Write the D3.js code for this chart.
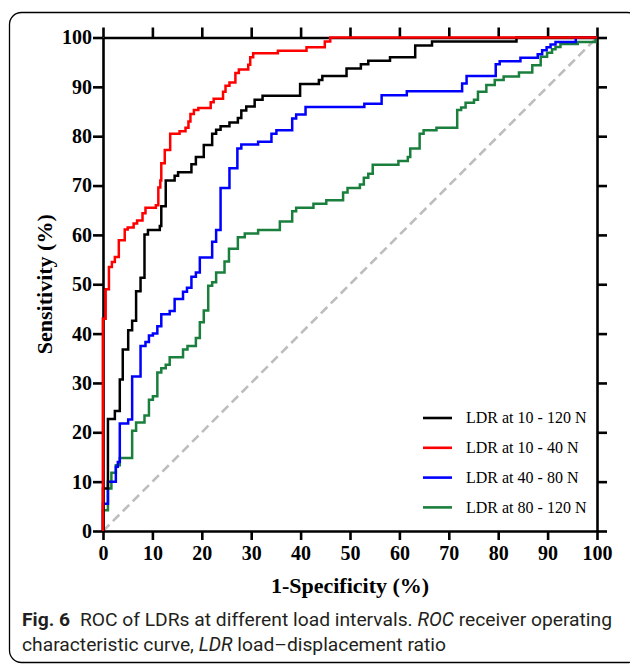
<!DOCTYPE html>
<html>
<head>
<meta charset="utf-8">
<script src="https://cdn.jsdelivr.net/npm/d3@7"></script>
<style>
  body { margin: 0; background: #fff; }
  .axis path, .axis line { stroke: #000; stroke-width: 2.6px; }
  .axis text { font-family: "Liberation Serif", "Times New Roman", serif; font-weight: bold; font-size: 20px; fill: #000; }
</style>
</head>
<body>
<div id="chart-area"></div>
<script>
// ROC curves, values (x = 1-specificity %, y = sensitivity %)
var xTicks = [0, 10, 20, 30, 40, 50, 60, 70, 80, 90, 100];
var yTicks = [0, 10, 20, 30, 40, 50, 60, 70, 80, 90, 100];

var names = ["LDR at 10 - 120 N", "LDR at 10 - 40 N", "LDR at 40 - 80 N", "LDR at 80 - 120 N"];
var colors = ["#000000", "#ff0000", "#0000ff", "#1a7f3c"];

var fpr1 = [0, 0, 1, 2.4, 3.4, 4, 5.1, 5.9, 6.7, 7.6, 8.4, 9.1, 11.5, 11.8, 12.7, 14.5, 15.2, 17.9, 18.8, 20.4, 22.1, 22.9, 23.8, 25.6, 27.3, 28, 29, 30.7, 32.3, 39.9, 43.7, 44.4, 49.3, 52.2, 53.7, 58.1, 63.2, 66.6, 83.7, 100];
var tpr1 = [0, 8.6, 22.7, 24.3, 30.7, 36.8, 40.7, 42.6, 48.6, 51.3, 60.1, 61, 61.8, 65.8, 71, 72, 72.7, 74.3, 75.8, 78.2, 80.5, 81.3, 82, 82.8, 83.7, 85.2, 86, 87.4, 88.2, 90.6, 91.4, 92.2, 93.7, 94.6, 95.3, 96, 98.4, 99.2, 100, 100];

var fpr2 = [0, 0, 0.5, 1.2, 1.8, 2.4, 3.2, 4.4, 5, 6.2, 6.9, 8, 8.6, 10.7, 11.2, 11.6, 11.8, 12.5, 13.6, 15.5, 16.7, 17.3, 17.7, 18.4, 19.3, 21.8, 22.4, 24.3, 24.8, 25.6, 26.8, 27.5, 29.4, 29.8, 30.4, 35.4, 41.2, 44.9, 46, 100];
var tpr2 = [0, 43, 49, 53.5, 54.5, 55.5, 58.9, 61.1, 61.5, 62.3, 62.9, 64.4, 65.5, 66, 69.6, 71, 74.5, 77.2, 80.5, 81, 81.7, 83, 84.5, 85.3, 85.7, 86.9, 87.6, 89, 90.2, 90.9, 92.8, 93.5, 94.5, 96, 96.8, 97.3, 98, 99.2, 100, 100];

var fpr3 = [0, 0, 1, 2.6, 3, 3.4, 5.1, 5.9, 7.6, 8.6, 9.3, 10.1, 11, 11.8, 13.5, 14.5, 16.2, 17, 17.9, 18.8, 19.6, 22.1, 22.9, 23.8, 25.6, 27.2, 28, 31.4, 34.1, 35.1, 38.3, 39.1, 41, 52.9, 56.4, 61.5, 72.7, 73.6, 79.5, 80.3, 84.5, 88, 88.9, 89.8, 90.6, 91.6, 95.7, 100];
var tpr3 = [0, 5.5, 10, 13, 14, 21.8, 22.6, 31.3, 37.5, 38.3, 39.6, 40, 41.5, 43.9, 44.6, 47, 48.5, 49.3, 51.5, 52.4, 55.4, 58.6, 61, 69.5, 73.5, 77.5, 78.3, 78.9, 80.5, 81.2, 83.6, 84.4, 85.9, 86.6, 88.3, 89.1, 90.7, 92.2, 94.6, 95.2, 95.9, 96.6, 97.4, 98, 98.6, 99.1, 100, 100];

var fpr4 = [0, 0, 1, 1.7, 2.6, 3.4, 5.9, 6.7, 8.4, 9.3, 10.1, 11, 11.8, 12.7, 13.5, 16.2, 17.1, 18.8, 19.6, 20.4, 21.3, 22.1, 22.9, 24.6, 25.5, 27.3, 28.7, 31.4, 35.8, 38.3, 39.1, 42.6, 45.2, 48.6, 49.5, 52, 52.8, 53.7, 54.6, 59.8, 61.7, 62.2, 64.1, 64.9, 67.5, 71.7, 72.5, 73.4, 75.1, 75.9, 77.6, 79.3, 81.1, 84.2, 86.9, 88.6, 89.9, 90.9, 91.6, 92.6, 96.1, 99.7, 100];
var tpr4 = [0, 4.2, 8.6, 11.8, 13.3, 14.8, 20.3, 22, 23.4, 26.6, 27.3, 32.1, 33, 33.7, 35.2, 36.8, 37.5, 39.1, 42.3, 44.7, 49.7, 50.4, 52.4, 54.6, 57.2, 59.5, 60.3, 61, 62.7, 64.8, 65.5, 66.3, 67, 68.6, 69.5, 70.2, 71.6, 72.4, 74.2, 75, 75.8, 77.5, 80.5, 81.2, 81.7, 85.3, 85.8, 86.8, 87.4, 89, 90.4, 91.4, 92.1, 92.9, 94.4, 96.1, 96.9, 97.6, 98.1, 98.7, 99.1, 100, 100];

var series = [
  {name: names[0], color: colors[0], x: fpr1, y: tpr1},
  {name: names[1], color: colors[1], x: fpr2, y: tpr2},
  {name: names[2], color: colors[2], x: fpr3, y: tpr3},
  {name: names[3], color: colors[3], x: fpr4, y: tpr4}
];

var W = 630, H = 665;
var margin = {left: 103, top: 37.5, right: 33, bottom: 134},
    width = W - margin.left - margin.right,
    height = H - margin.top - margin.bottom;

var svg = d3.select("#chart-area").append("svg")
  .attr("width", W).attr("height", H);

// rounded frame around figure + caption
svg.append("rect")
  .attr("x", 9.5).attr("y", 12.5)
  .attr("width", 630).attr("height", 650)
  .attr("rx", 12).attr("ry", 12)
  .attr("fill", "none").attr("stroke", "#000").attr("stroke-width", 1.3);

var g = svg.append("g")
  .attr("transform", "translate(" + margin.left + "," + margin.top + ")");

var x = d3.scaleLinear().domain([0, 100]).range([0, width]);
var y = d3.scaleLinear().domain([0, 100]).range([height, 0]);

// reference diagonal
g.append("line")
  .attr("x1", x(0)).attr("y1", y(0)).attr("x2", x(100)).attr("y2", y(100))
  .attr("stroke", "#bdbdbd").attr("stroke-width", 2.6)
  .attr("stroke-dasharray", "9,5");

//axes
g.append("g").attr("class", "axis")
  .call(d3.axisTop(x).tickValues(xTicks).tickSize(10).tickSizeOuter(0).tickFormat(""));
g.append("g").attr("class", "axis")
  .attr("transform", "translate(" + width + ",0)")
  .call(d3.axisRight(y).tickValues(yTicks).tickSize(10).tickSizeOuter(0).tickFormat(""));

var line = d3.line()
  .x(function(d) { return x(d[0]); })
  .y(function(d) { return y(d[1]); })
  .curve(d3.curveStepAfter);

// draw order so red sits on top
[3, 2, 0, 1].forEach(function(i) {
  var s = series[i];
  g.append("path")
    .attr("fill", "none")
    .attr("stroke", s.color)
    .attr("stroke-width", 2.5)
    .attr("stroke-linejoin", "miter")
    .attr("d", line(d3.zip(s.x, s.y)));
});

var yAxis = g.append("g").attr("class", "axis")
  .call(d3.axisLeft(y).tickValues(yTicks).tickSize(10).tickSizeOuter(0).tickPadding(1));
var xAxis = g.append("g").attr("class", "axis")
  .attr("transform", "translate(0," + height + ")")
  .call(d3.axisBottom(x).tickValues(xTicks).tickSize(9).tickSizeOuter(0).tickPadding(6));

// red drawn over the y axis at x = 0
g.append("path")
  .attr("fill", "none").attr("stroke", colors[1]).attr("stroke-width", 2.5)
  .attr("d", line(d3.zip(fpr2, tpr2).slice(0, 3)));

// axis titles
g.append("text")
  .attr("x", width / 2).attr("y", height + 62)
  .attr("text-anchor", "middle")
  .style("font-family", "'Liberation Serif', serif").style("font-weight", "bold").style("font-size", "22px")
  .text("1-Specificity (%)");
g.append("text")
  .attr("transform", "rotate(-90)")
  .attr("x", -height / 2).attr("y", -51)
  .attr("text-anchor", "middle")
  .style("font-family", "'Liberation Serif', serif").style("font-weight", "bold").style("font-size", "22px")
  .text("Sensitivity (%)");

// legend
var legend = g.append("g").attr("transform", "translate(" + (423 - margin.left) + "," + (418 - margin.top) + ")");
series.forEach(function(s, i) {
  var row = legend.append("g").attr("transform", "translate(0," + (i * 29.8) + ")");
  row.append("line").attr("x1", 0).attr("x2", 29)
    .attr("stroke", s.color).attr("stroke-width", 2.6);
  row.append("text").attr("x", 43).attr("dy", "0.33em")
    .style("font-family", "'Liberation Serif', serif").style("font-size", "16px")
    .text(s.name);
});

// caption
var cap = svg.append("g").style("font-family", "Roboto, 'Noto Sans', sans-serif").style("font-size", "18px").attr("fill", "#231f20");
var l1 = cap.append("text").attr("x", 22).attr("y", 626);
l1.append("tspan").style("font-weight", "bold").text("Fig. 6");
l1.append("tspan").text("\u2002ROC of LDRs at different load intervals. ");
l1.append("tspan").style("font-style", "italic").text("ROC");
l1.append("tspan").text(" receiver operating");
var l2 = cap.append("text").attr("x", 22).attr("y", 651);
l2.append("tspan").text("characteristic curve, ");
l2.append("tspan").style("font-style", "italic").text("LDR");
l2.append("tspan").text(" load\u2013displacement ratio");

// fit caption to the width it has in the figure
var wl = l1.node().getComputedTextLength();
var fs = 18 * 590 / wl;
cap.style("font-size", fs + "px");
</script>
</body>
</html>
